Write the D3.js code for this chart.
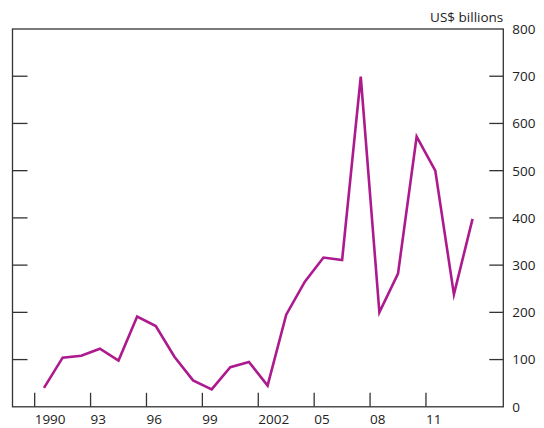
<!DOCTYPE html>
<html>
<head>
<meta charset="utf-8">
<script src="https://cdn.jsdelivr.net/npm/d3@7/dist/d3.min.js"></script>
<style>
  html, body { margin: 0; padding: 0; background: #fff; }
  svg text { font-family: "Open Sans", "Noto Sans", sans-serif; fill: #222; }
</style>
</head>
<body>
<svg id="chart" width="544" height="428"></svg>
<script>
const years = [1990,1991,1992,1993,1994,1995,1996,1997,1998,1999,2000,2001,2002,2003,2004,2005,2006,2007,2008,2009,2010,2011,2012,2013];
const values = [40,104,108,123,98,191,171,106,56,37,84,95,45,195,265,316,311,699,200,282,572,500,238,398];
const xTickYears = [1990,1993,1996,1999,2002,2005,2008,2011];
const xTickLabels = ["1990","93","96","99","2002","05","08","11"];
const yTicks = [0,100,200,300,400,500,600,700,800];
const unitLabel = "US$ billions";

const svg = d3.select("#chart");
const L = 12.5, R = 503.3, T = 29, B = 406.8;

const x = d3.scaleLinear().domain([1988.81, 2015.15]).range([L, R]);
const y = d3.scaleLinear().domain([0, 800]).range([B, T]);

const axisColor = "#333";

// frame
svg.append("rect")
  .attr("x", L).attr("y", T).attr("width", R - L).attr("height", B - T)
  .attr("fill", "none").attr("stroke", axisColor).attr("stroke-width", 1.3);

// inner y ticks (left and right)
const innerY = yTicks.filter(v => v > 0 && v < 800);
svg.selectAll("line.yl").data(innerY).enter().append("line")
  .attr("x1", L).attr("x2", L + 15)
  .attr("y1", d => y(d)).attr("y2", d => y(d))
  .attr("stroke", axisColor).attr("stroke-width", 1.3);
svg.selectAll("line.yr").data(innerY).enter().append("line")
  .attr("x1", R - 14).attr("x2", R)
  .attr("y1", d => y(d)).attr("y2", d => y(d))
  .attr("stroke", axisColor).attr("stroke-width", 1.3);

// right y labels
svg.selectAll("text.yl").data(yTicks).enter().append("text")
  .attr("x", R + 9).attr("y", d => y(d))
  .attr("dy", "0.36em")
  .attr("font-size", 13.5)
  .text(d => d);

// unit label
svg.append("text")
  .attr("x", R).attr("y", 22)
  .attr("text-anchor", "end")
  .attr("font-size", 13.5)
  .text(unitLabel);

// x ticks (inward, upward)
svg.selectAll("line.xt").data(xTickYears).enter().append("line")
  .attr("x1", d => x(d)).attr("x2", d => x(d))
  .attr("y1", B - 14).attr("y2", B)
  .attr("stroke", axisColor).attr("stroke-width", 1.3);

svg.selectAll("text.xt").data(xTickYears).enter().append("text")
  .attr("x", d => x(d)).attr("y", 424)
  .attr("text-anchor", "start")
  .attr("font-size", 13.5)
  .text((d, i) => xTickLabels[i]);

// line
const line = d3.line()
  .x((d, i) => x(years[i] + 0.5))
  .y(d => y(d));

svg.append("path")
  .datum(values)
  .attr("d", line)
  .attr("fill", "none")
  .attr("stroke", "#ac1a8e")
  .attr("stroke-width", 2.6)
  .attr("stroke-linejoin", "miter")
  .attr("stroke-miterlimit", 10);
</script>
</body>
</html>
